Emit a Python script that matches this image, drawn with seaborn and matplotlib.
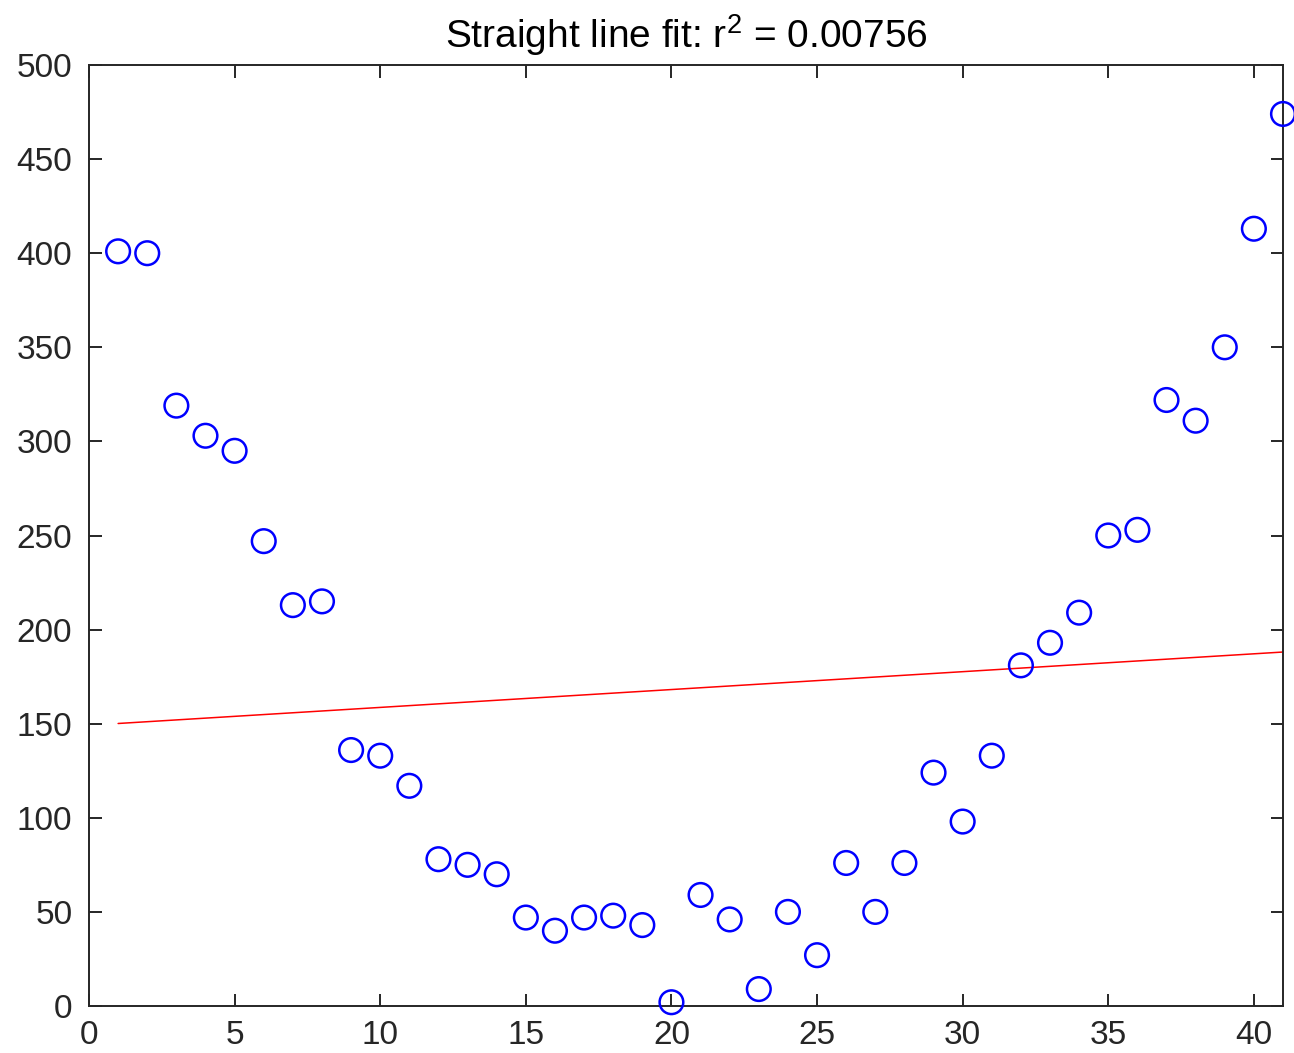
import matplotlib
matplotlib.use("Agg")
import matplotlib.pyplot as plt
import seaborn as sns
import numpy as np
import pandas as pd

# datos
x_vals = list(range(1, 42))
y_vals = [401, 400, 319, 303, 295, 247, 213, 215, 136, 133,
          117, 78, 75, 70, 47, 40, 47, 48, 43, 2,
          59, 46, 9, 50, 27, 76, 50, 76, 124, 98,
          133, 181, 193, 209, 250, 253, 322, 311, 350, 413,
          474]
titulo = "Straight line fit: r$^2$ = 0.00756"
x_ticks = [0, 5, 10, 15, 20, 25, 30, 35, 40]
y_ticks = [0, 50, 100, 150, 200, 250, 300, 350, 400, 450, 500]

df = pd.DataFrame({"x": x_vals, "y": y_vals})

sns.set_theme(style="ticks")
plt.rcParams["font.family"] = ["Liberation Sans", "DejaVu Sans"]
plt.rcParams["mathtext.fontset"] = "custom"
plt.rcParams["mathtext.rm"] = "Liberation Sans"

fig = plt.figure(figsize=(12.94, 10.53), dpi=100)
ax = fig.add_axes([89 / 1294, 1 - 1006 / 1053, 1194 / 1294, 941 / 1053])

# recta de ajuste por minimos cuadrados
sns.regplot(data=df, x="x", y="y", ci=None, scatter=False,
            line_kws={"color": "red", "linewidth": 1.1}, ax=ax)
sns.scatterplot(data=df, x="x", y="y", marker="o", s=290,
                facecolors="none", edgecolor="blue", linewidth=1.8,
                ax=ax, zorder=3, clip_on=False)

ax.set_xlim(0, 41)
ax.set_ylim(0, 500)
ax.set_xticks(x_ticks)
ax.set_yticks(y_ticks)
ax.set_xlabel("")
ax.set_ylabel("")
ax.set_title(titulo, fontsize=28, color="black", pad=12)

for s in ax.spines.values():
    s.set_visible(True)
    s.set_linewidth(1.4)
    s.set_color("#262626")
ax.tick_params(direction="in", length=9, width=1.4, color="#262626",
               labelsize=24, labelcolor="#262626",
               top=True, right=True)
ax.tick_params(axis="y", pad=12)
ax.tick_params(axis="x", pad=10)

plt.savefig("out.png", dpi=100)
